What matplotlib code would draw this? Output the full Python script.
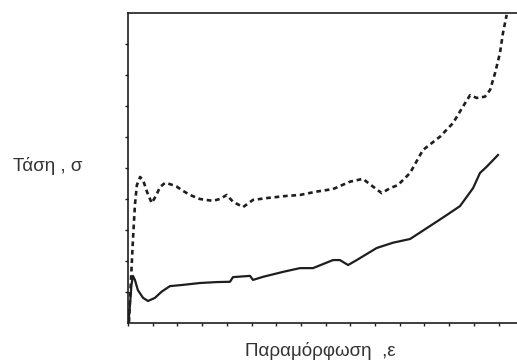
import matplotlib
matplotlib.use("Agg")
import matplotlib.pyplot as plt

# Upper (dashed) stress-strain curve
strain_upper = [0.04, 0.08, 0.14, 0.20, 0.28, 0.36, 0.49, 0.61, 0.77, 0.96, 1.13, 1.30,
                1.50, 1.70, 1.97, 2.23, 2.51, 2.91, 3.44, 3.72, 4.00, 4.25, 4.66, 5.06,
                5.62, 6.43, 6.96, 7.64, 8.30, 8.99, 9.51, 9.92, 10.27, 10.61, 10.93,
                11.42, 11.94, 12.63, 13.16, 13.56, 13.85, 14.12, 14.45, 14.66, 14.86,
                15.06, 15.18, 15.33]
stress_upper = [0.03, 0.74, 1.71, 2.68, 3.81, 4.45, 4.71, 4.61, 4.23, 3.87, 4.10, 4.39,
                4.52, 4.48, 4.40, 4.26, 4.13, 4.00, 3.94, 4.00, 4.13, 3.91, 3.74, 3.97,
                4.03, 4.10, 4.13, 4.24, 4.32, 4.56, 4.65, 4.40, 4.19, 4.35, 4.45,
                4.84, 5.58, 6.01, 6.45, 6.98, 7.35, 7.26, 7.30, 7.52, 8.06,
                8.71, 9.35, 9.94]

# Lower (solid) stress-strain curve
strain_lower = [0.02, 0.08, 0.14, 0.20, 0.28, 0.40, 0.61, 0.81, 1.09, 1.36, 1.70, 2.23,
                2.91, 3.59, 4.13, 4.25, 4.94, 5.06, 5.47, 6.28, 6.96, 7.49, 8.30, 8.58,
                8.91, 9.26, 10.07, 10.73, 11.42, 12.23, 12.90, 13.44, 13.97, 14.25,
                14.52, 14.98]
stress_lower = [0.03, 0.58, 1.23, 1.52, 1.39, 1.06, 0.81, 0.71, 0.81, 1.01, 1.19, 1.23,
                1.29, 1.32, 1.33, 1.48, 1.52, 1.39, 1.49, 1.65, 1.77, 1.77, 2.03, 2.03,
                1.87, 2.03, 2.42, 2.59, 2.71, 3.13, 3.48, 3.77, 4.35, 4.84,
                5.04, 5.42]

x_ticks = list(range(0, 16))
y_ticks = list(range(1, 10))

ylabel_text = "Τάση , σ"
xlabel_text = "Παραμόρφωση  ,ε"

fig = plt.figure(figsize=(5.17, 3.61), dpi=100)
ax = fig.add_axes([128 / 517, 1 - 323 / 361, 395.2 / 517, 310 / 361])

ink = "#1e1e1e"
ax.plot(strain_upper, stress_upper, color=ink, lw=1.9, linestyle=(0, (1.8, 1.4)))
ax.plot(strain_lower, stress_lower, color=ink, lw=1.6, solid_joinstyle="round")

ax.set_xlim(0, 16)
ax.set_ylim(0, 10)
ax.set_xticks(x_ticks)
ax.set_yticks(y_ticks)
ax.tick_params(axis="both", direction="out", length=2.5, width=1.0, colors=ink,
               labelbottom=False, labelleft=False)
ax.spines["right"].set_visible(False)
for side in ("left", "top", "bottom"):
    ax.spines[side].set_linewidth(1.2)
    ax.spines[side].set_color(ink)

text_ink = "#333333"
fig.text(13 / 517, 1 - 171 / 361, ylabel_text, fontsize=13.5, family="Liberation Sans",
         color=text_ink, ha="left", va="baseline")
fig.text(245 / 517, 1 - 356 / 361, xlabel_text, fontsize=13.5, family="Liberation Sans",
         color=text_ink, ha="left", va="baseline")

fig.savefig("out.png", dpi=100)
